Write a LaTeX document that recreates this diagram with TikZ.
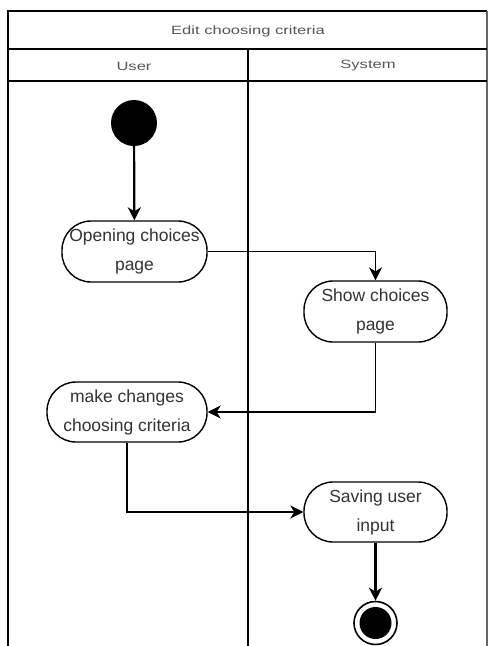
\documentclass[tikz,border=0pt]{standalone}
\usepackage{fontspec}
\setmainfont{Liberation Sans}
\usetikzlibrary{arrows.meta}
\definecolor{txt}{HTML}{333333}
\definecolor{hdr}{HTML}{555555}
\tikzset{
  act/.style={draw=black, line width=1.4pt, rounded corners=29pt, fill=white,
    inner sep=0pt, align=center, text=txt,
    font=\fontsize{17.5}{29}\selectfont},
  flow/.style={draw=black, line width=1.4pt, -{Stealth[length=13pt,width=13pt,inset=4pt]}},
  bold flow/.style={flow, line width=2.2pt},
  frame/.style={draw=black, line width=1.4pt},
  hdrtext/.style={text=hdr, inner sep=0pt, font=\fontsize{12}{14}\selectfont},
}
\newcommand{\wide}[1]{\scalebox{1.38}[1]{#1}}
\begin{document}
\begin{tikzpicture}[x=1pt,y=-1pt]
\useasboundingbox (0,0) rectangle (488,646);
% frame
\draw[frame] (8,646) -- (8,11) -- (487,11);
\draw[draw=black!60, line width=1.4pt] (487,11) -- (487,646);
\draw[frame] (8,49) -- (487,49);
\draw[frame] (8,81) -- (487,81);
\draw[frame] (248,49) -- (248,646);
% headers
\node[hdrtext] (title) at (248,31) {\wide{Edit choosing criteria}};
\node[hdrtext] (user) at (134,66) {\wide{User}};
\node[hdrtext] (system) at (368,66) {\wide{System}};
% nodes
\node[circle, fill=black, minimum size=46pt, inner sep=0pt] (start) at (134,123) {};
\node[act, minimum width=145pt, minimum height=61pt] (open) at (134.5,251.5) {Opening choices\\page};
\node[act, minimum width=143pt, minimum height=61pt] (show) at (375.5,311.5) {Show choices\\page};
\node[act, minimum width=160pt, minimum height=60pt] (make) at (127,412) {make changes\\choosing criteria};
\node[act, minimum width=143pt, minimum height=60pt] (save) at (375.5,512) {Saving user\\input};
\node[circle, draw=black, line width=1.6pt, minimum size=43pt, inner sep=0pt] (end) at (375.5,623) {};
\node[circle, fill=black, minimum size=32pt, inner sep=0pt] (endin) at (end.center) {};
% connectors
\draw[bold flow] (start) -- (open);
\draw[flow] (open.east) -| (show.north);
\draw[flow] (show.south) |- (make.east);
\draw[flow] (make.south) |- (save.west);
\draw[bold flow] (save.south) -- (end.north);
\end{tikzpicture}
\end{document}
